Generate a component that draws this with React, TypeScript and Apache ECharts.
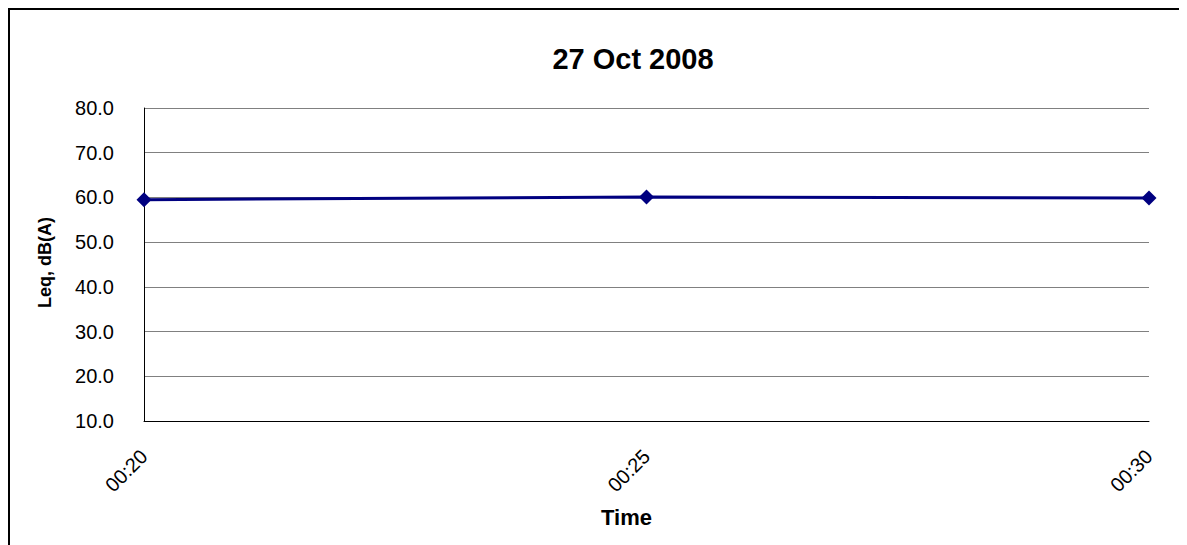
import React, { useEffect, useRef } from "react";
import * as echarts from "echarts";

const titleText = "27 Oct 2008";
const categories = ["00:20", "00:25", "00:30"];
const leqValues = [59.5, 60.1, 59.9];
const yTicks = { min: 10, max: 80, interval: 10 };
const xAxisTitle = "Time";
const yAxisTitle = "Leq, dB(A)";

const FONT = "Arial, 'Liberation Sans', sans-serif";

export default function App() {
  const ref = useRef<HTMLDivElement>(null);
  useEffect(() => {
    document.documentElement.style.overflow = "hidden";
    document.body.style.overflow = "hidden";
    const chart = echarts.init(ref.current!, null, { renderer: "svg" });
    chart.setOption({
      animation: false,
      title: {
        text: titleText,
        left: 620,
        top: 31,
        textAlign: "center",
        textStyle: { fontFamily: FONT, fontSize: 29, fontWeight: "bold", color: "#000" },
      },
      graphic: [
        { type: "line", shape: { x1: 1, y1: 0, x2: 1, y2: 537 }, style: { stroke: "#000", lineWidth: 2 } },
        { type: "line", shape: { x1: 0, y1: 1, x2: 1179, y2: 1 }, style: { stroke: "#000", lineWidth: 2 } },
      ],
      grid: { left: 136, top: 100, width: 1005, height: 313, containLabel: false },
      xAxis: {
        type: "category",
        data: categories,
        boundaryGap: false,
        name: xAxisTitle,
        nameLocation: "middle",
        nameGap: 85,
        nameTextStyle: { fontFamily: FONT, fontSize: 22, fontWeight: "bold", color: "#000", padding: [0, 40, 0, 0] },
        axisLine: { lineStyle: { color: "#000", width: 1 } },
        axisTick: { show: false },
        axisLabel: { rotate: 45, margin: 32, fontFamily: FONT, fontSize: 20, color: "#000" },
        splitLine: { show: false },
      },
      yAxis: {
        type: "value",
        min: yTicks.min,
        max: yTicks.max,
        interval: yTicks.interval,
        name: yAxisTitle,
        nameLocation: "middle",
        nameGap: 90,
        nameTextStyle: { fontFamily: FONT, fontSize: 18, fontWeight: "bold", color: "#000", padding: [0, 0, 0, 4] },
        axisLine: { show: true, lineStyle: { color: "#000", width: 1 } },
        axisTick: { show: false },
        axisLabel: {
          margin: 30,
          fontFamily: FONT,
          fontSize: 20,
          color: "#000",
          formatter: (v: number) => v.toFixed(1),
        },
        splitLine: { show: true, lineStyle: { color: "#808080", width: 1 } },
      },
      series: [
        {
          type: "line",
          data: leqValues,
          symbol: "diamond",
          symbolSize: [15, 15],
          lineStyle: { color: "#000080", width: 3 },
          itemStyle: { color: "#000080" },
        },
      ],
    });
    return () => chart.dispose();
  }, []);
  return <div ref={ref} style={{ width: 1179, height: 537 }} />;
}
